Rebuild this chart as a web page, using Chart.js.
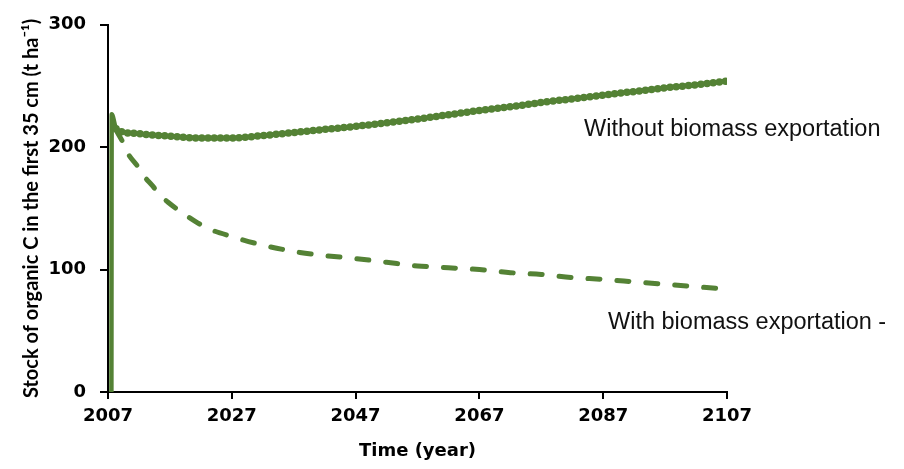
<!DOCTYPE html>
<html>
<head>
<meta charset="utf-8">
<script src="https://cdn.jsdelivr.net/npm/chart.js@4.4.0/dist/chart.umd.min.js"></script>
<style>
  html, body { margin: 0; padding: 0; background: #fff; }
  #wrap { width: 904px; height: 469px; }
</style>
</head>
<body>
<div id="wrap"><canvas id="chart" width="904" height="469"></canvas></div>
<script>
// ===== Data =====
const withoutYears = [2007.55, 2007.6, 2008.3, 2009, 2012, 2017, 2022, 2027, 2032, 2037, 2042, 2047, 2052, 2057, 2062, 2067, 2072, 2077, 2082, 2087, 2092, 2097, 2102, 2107];
const withoutStock = [0, 227, 215, 213, 211, 209, 207.5, 207.5, 209.5, 212, 214.5, 217, 220, 223, 226.5, 230, 233, 236.5, 239.5, 242.5, 245.5, 248.5, 251, 254];

const withYears = [2008.3, 2009.3, 2010.2, 2011.7, 2012.7, 2014.1, 2015.4, 2016.7, 2020, 2023, 2027, 2032, 2038, 2042, 2047, 2052, 2057, 2062, 2067, 2072, 2077, 2082, 2087, 2092, 2097, 2102, 2107];
const withStock = [214, 205, 195, 185, 177, 169, 161, 155, 143, 134, 127, 120, 114, 111.5, 109, 106, 103, 101.5, 100, 97.5, 96, 93.5, 92, 90, 88, 86, 84];

const xTicks = [2007, 2027, 2047, 2067, 2087, 2107];
const yTicks = [0, 100, 200, 300];
const seriesLabels = ["Without biomass exportation", "With biomass exportation -"];

const green = "#548235";

// ===== Helpers =====
const toPoints = (xs, ys) => xs.map((x, i) => ({ x, y: ys[i] }));

// text labels next to the curves
const curveLabels = {
  id: "curveLabels",
  afterDraw(chart) {
    const c = chart.ctx;
    c.save();
    c.fillStyle = "#111";
    c.font = "23.5px 'Liberation Sans', Arial, sans-serif";
    c.textBaseline = "alphabetic";
    c.textAlign = "left";
    c.fillText(seriesLabels[0], 584, 136);
    c.fillText(seriesLabels[1], 608, 329);
    c.restore();
  }
};

// ===== Chart =====
const ctx = document.getElementById("chart").getContext("2d");
new Chart(ctx, {
  type: "line",
  data: {
    datasets: [
      {
        label: seriesLabels[1],
        data: toPoints(withYears, withStock),
        borderColor: green,
        borderWidth: 5,
        borderDash: [12, 17],
        borderCapStyle: "round",
        pointRadius: 0,
        cubicInterpolationMode: "monotone",
        fill: false
      },
      {
        label: seriesLabels[0],
        data: toPoints(withoutYears, withoutStock),
        borderColor: green,
        borderWidth: 4.5,
        pointRadius: 0,
        cubicInterpolationMode: "monotone",
        fill: false
      },
      {
        // same series again, as round dots, for the wavy edge of the line
        label: seriesLabels[0] + " (edge)",
        data: toPoints(withoutYears.slice(2), withoutStock.slice(2)),
        borderColor: green,
        borderWidth: 7.5,
        borderDash: [0, 6.2],
        borderCapStyle: "round",
        pointRadius: 0,
        cubicInterpolationMode: "monotone",
        fill: false
      }
    ]
  },
  options: {
    responsive: false,
    animation: false,
    events: [],
    layout: { padding: { top: 20, right: 177, left: 0, bottom: 0 } },
    plugins: { legend: { display: false }, tooltip: { enabled: false } },
    scales: {
      x: {
        type: "linear",
        min: xTicks[0],
        max: xTicks[xTicks.length - 1],
        afterBuildTicks: s => { s.ticks = xTicks.map(v => ({ value: v })); },
        afterFit: s => { s.height = 77; },
        border: { color: "#000", width: 2 },
        grid: { drawOnChartArea: false, drawTicks: true, tickLength: 7, color: "#000", lineWidth: 2 },
        ticks: {
          color: "#000",
          padding: 7,
          maxRotation: 0,
          font: { family: "'DejaVu Sans'", size: 18, weight: "bold" },
          callback: v => String(v)
        },
        title: {
          display: true,
          text: "Time (year)",
          color: "#000",
          padding: { top: 0, bottom: 7 },
          font: { family: "'DejaVu Sans'", size: 18, weight: "bold" }
        }
      },
      y: {
        min: yTicks[0],
        max: yTicks[yTicks.length - 1],
        afterBuildTicks: s => { s.ticks = yTicks.map(v => ({ value: v })); },
        afterFit: s => { s.width = 108; },
        border: { color: "#000", width: 2 },
        grid: { drawOnChartArea: false, drawTicks: true, tickLength: 8, color: "#000", lineWidth: 2 },
        ticks: {
          color: "#000",
          padding: 14,
          font: { family: "'DejaVu Sans'", size: 18, weight: "bold" }
        },
        title: {
          display: true,
          text: "Stock of organic C in the first 35 cm (t ha\u207B\u00B9)",
          color: "#000",
          padding: { top: 20, bottom: 0 },
          font: { family: "Lato", size: 20, weight: "bold" }
        }
      }
    }
  },
  plugins: [curveLabels]
});
</script>
</body>
</html>
